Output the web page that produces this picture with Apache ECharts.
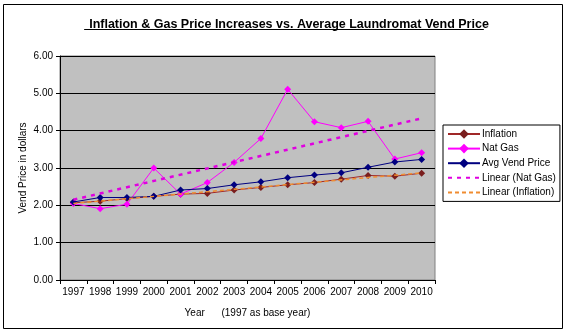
<!DOCTYPE html>
<html>
<head>
<meta charset="utf-8">
<script src="https://cdn.jsdelivr.net/npm/echarts@6/dist/echarts.min.js"></script>
<style>
  html, body { margin: 0; padding: 0; background: #fff; }
  #chart { width: 569px; height: 335px; }
</style>
</head>
<body>
<div id="chart"></div>
<script>
// Years on the category axis
const years = ['1997', '1998', '1999', '2000', '2001', '2002', '2003',
               '2004', '2005', '2006', '2007', '2008', '2009', '2010'];

// Price series, dollars
const inflation = [2.07, 2.11, 2.18, 2.24, 2.30, 2.32, 2.41, 2.48, 2.55, 2.61, 2.70, 2.80, 2.78, 2.86];
const natGas    = [2.05, 1.91, 2.03, 3.00, 2.30, 2.61, 3.15, 3.79, 5.11, 4.24, 4.08, 4.25, 3.24, 3.41];
const avgVend   = [2.09, 2.21, 2.21, 2.24, 2.41, 2.45, 2.55, 2.63, 2.74, 2.81, 2.87, 3.02, 3.16, 3.23];

// Linear trend lines: value at first and last year
const natGasTrend    = [2.15, 4.33];
const inflationTrend = [2.05, 2.87];

// Value-axis ticks
const yTicks = [0, 1, 2, 3, 4, 5, 6];

// Trend series: endpoints only, joined straight across the years
function trendData(ends) {
  return years.map((y, i) => i === 0 ? ends[0] : (i === years.length - 1 ? ends[1] : null));
}

const FONT = '"Liberation Sans", Arial, sans-serif';
const TITLE = 'Inflation & Gas Price Increases vs. Average Laundromat Vend Price';
const TITLE_SIZE = 12.5;
const TITLE_X = 284;

// width of the title, for the underline
const ctx = document.createElement('canvas').getContext('2d');
ctx.font = 'bold ' + TITLE_SIZE + 'px ' + FONT;
const titleW = ctx.measureText(TITLE).width;

const chart = echarts.init(document.getElementById('chart'), null, { renderer: 'canvas' });

const noMarker = { opacity: 0 };

chart.setOption({
  backgroundColor: '#ffffff',
  animation: false,
  title: {
    text: TITLE,
    left: TITLE_X,
    textAlign: 'center',
    top: 13,
    textStyle: { fontFamily: FONT, fontSize: TITLE_SIZE, fontWeight: 'bold', color: '#000' }
  },
  graphic: [
    { // outer chart frame
      type: 'rect', silent: true, z: -1,
      shape: { x: 3.5, y: 4.5, width: 559, height: 324 },
      style: { fill: null, stroke: '#000', lineWidth: 1 }
    },
    { // title underline
      type: 'line', silent: true,
      shape: { x1: TITLE_X - titleW / 2, y1: 29.5, x2: TITLE_X + titleW / 2, y2: 29.5 },
      style: { stroke: '#000', lineWidth: 1 }
    }
  ],
  grid: {
    left: 60, top: 56, right: 134, bottom: 55,
    show: true,
    backgroundColor: '#C0C0C0',
    borderColor: '#808080',
    borderWidth: 1
  },
  legend: {
    orient: 'vertical',
    left: 443, top: 125,
    backgroundColor: '#fff',
    borderColor: '#000',
    borderWidth: 1,
    padding: [4, 4, 4, 4],
    itemWidth: 32,
    itemHeight: 12,
    itemGap: 4.6,
    textStyle: { fontFamily: FONT, fontSize: 10, color: '#000', padding: [0, 0, 0, -3] },
    data: [
      'Inflation', 'Nat Gas', 'Avg Vend Price',
      { name: 'Linear (Nat Gas)', itemStyle: noMarker },
      { name: 'Linear (Inflation)', itemStyle: noMarker }
    ]
  },
  xAxis: {
    type: 'category',
    data: years,
    boundaryGap: true,
    name: 'Year      (1997 as base year)',
    nameLocation: 'middle',
    nameGap: 28,
    nameTextStyle: { fontFamily: FONT, fontSize: 10, color: '#000' },
    axisLine: { lineStyle: { color: '#000', width: 1 } },
    axisTick: { show: true, length: 4, lineStyle: { color: '#000' } },
    axisLabel: { fontFamily: FONT, fontSize: 10, color: '#000', margin: 7, interval: 0 },
    splitLine: { show: false }
  },
  yAxis: {
    type: 'value',
    min: yTicks[0],
    max: yTicks[yTicks.length - 1],
    interval: 1,
    name: 'Vend Price in dollars',
    nameLocation: 'middle',
    nameGap: 32,
    nameMoveOverlap: false,
    nameRotate: 90,
    nameTextStyle: { fontFamily: FONT, fontSize: 10, color: '#000' },
    axisLine: { show: true, lineStyle: { color: '#000', width: 1 } },
    axisTick: { show: true, length: 4, lineStyle: { color: '#000' } },
    axisLabel: {
      fontFamily: FONT, fontSize: 10, color: '#000', margin: 7,
      formatter: v => v.toFixed(2)
    },
    splitLine: { show: true, lineStyle: { color: '#000', width: 1 } }
  },
  series: [
    {
      name: 'Inflation', type: 'line', data: inflation,
      symbol: 'diamond', symbolSize: 7,
      lineStyle: { color: '#A02828', width: 1 },
      itemStyle: { color: '#7A1E1E' },
      z: 3
    },
    {
      name: 'Nat Gas', type: 'line', data: natGas,
      symbol: 'diamond', symbolSize: 7,
      lineStyle: { color: '#FF00FF', width: 1 },
      itemStyle: { color: '#FF00FF' },
      z: 3
    },
    {
      name: 'Avg Vend Price', type: 'line', data: avgVend,
      symbol: 'diamond', symbolSize: 7,
      lineStyle: { color: '#000080', width: 1 },
      itemStyle: { color: '#000080' },
      z: 3
    },
    {
      name: 'Linear (Nat Gas)', type: 'line', data: trendData(natGasTrend),
      connectNulls: true, symbol: 'none',
      lineStyle: { color: '#E000E0', width: 2.5, type: [4, 5] },
      itemStyle: { color: '#E000E0' },
      z: 4
    },
    {
      name: 'Linear (Inflation)', type: 'line', data: trendData(inflationTrend),
      connectNulls: true, symbol: 'none',
      lineStyle: { color: '#F08C30', width: 1.5, type: [4, 3] },
      itemStyle: { color: '#F08C30' },
      z: 4
    }
  ]
});
</script>
</body>
</html>
